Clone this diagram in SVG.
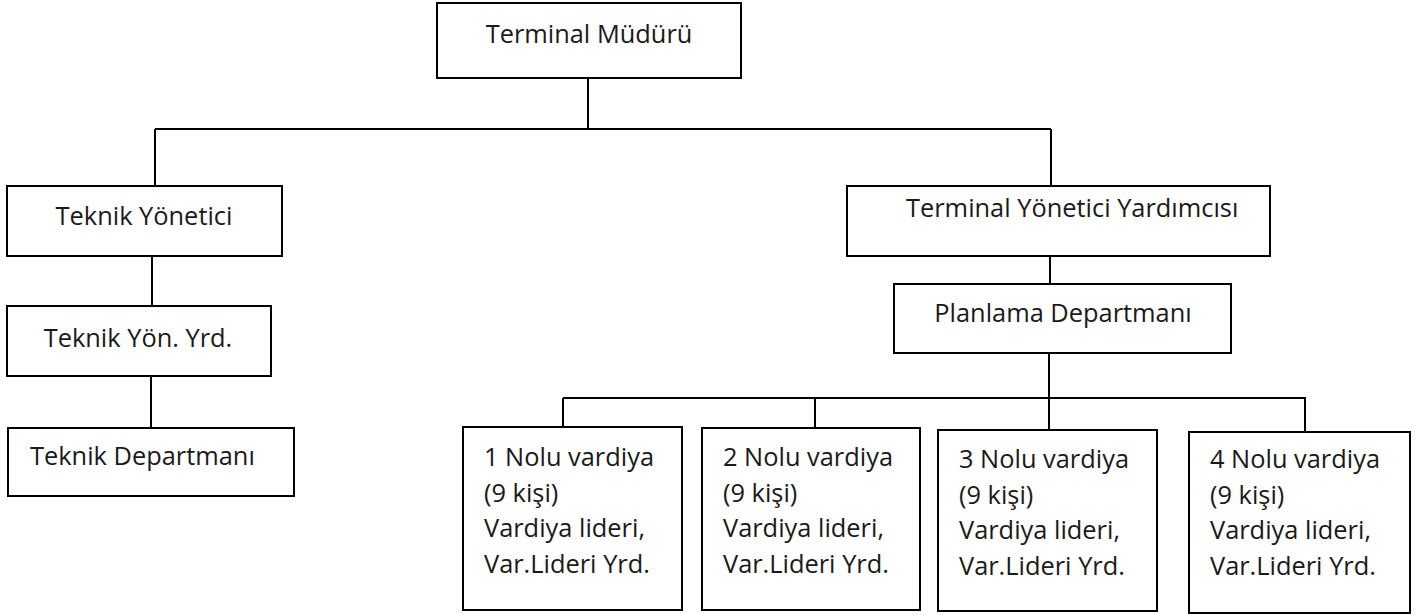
<svg xmlns="http://www.w3.org/2000/svg" width="1424" height="615" viewBox="0 0 1424 615">
<style>
.box{fill:#fff;stroke:#000;stroke-width:2}
.ln{stroke:#000;stroke-width:2;fill:none}
text{font-family:"Open Sans","Noto Sans","Liberation Sans",sans-serif;font-size:25.4px;fill:#1a1a1a}
.c{text-anchor:middle}
</style>
<rect width="1424" height="615" fill="#fff"/>
<g id="connectors">
<path class="ln" d="M588 72V129M155 129H1051M155 129V186M1051 129V186"/>
<path class="ln" d="M152 256V306M151 376V428"/>
<path class="ln" d="M1050 256V284M1049 345V398M563 398H1306M563 398V427M815 398V428M1049 398V430M1305 398V432"/>
</g>
<g id="n-terminal-muduru"><rect class="box" x="437" y="3" width="304" height="75"/><text class="c" x="589" y="43">Terminal Müdürü</text></g>
<g id="n-teknik-yonetici"><rect class="box" x="7" y="186" width="275" height="70"/><text class="c" x="144" y="225">Teknik Yönetici</text></g>
<g id="n-teknik-yon-yrd"><rect class="box" x="7" y="306" width="264" height="70"/><text class="c" x="138" y="347">Teknik Yön. Yrd.</text></g>
<g id="n-teknik-departmani"><rect class="box" x="8" y="428" width="286" height="68"/><text x="30" y="465">Teknik Departmanı</text></g>
<g id="n-terminal-yonetici-yardimcisi"><rect class="box" x="847" y="186" width="423" height="70"/><text x="906" y="217">Terminal Yönetici Yardımcısı</text></g>
<g id="n-planlama"><rect class="box" x="894" y="284" width="337" height="69"/><text class="c" x="1063" y="322">Planlama Departmanı</text></g>
<g id="n-vardiya-1"><rect class="box" x="463" y="427" width="219" height="183"/><text x="484" y="466"><tspan x="484">1 Nolu vardiya</tspan><tspan x="484" dy="35.5">(9 kişi)</tspan><tspan x="484" dy="35.5">Vardiya lideri,</tspan><tspan x="484" dy="35.5">Var.Lideri Yrd.</tspan></text></g>
<g id="n-vardiya-2"><rect class="box" x="702" y="428" width="218" height="182"/><text x="723" y="466"><tspan x="723">2 Nolu vardiya</tspan><tspan x="723" dy="35.5">(9 kişi)</tspan><tspan x="723" dy="35.5">Vardiya lideri,</tspan><tspan x="723" dy="35.5">Var.Lideri Yrd.</tspan></text></g>
<g id="n-vardiya-3"><rect class="box" x="938" y="430" width="219" height="181"/><text x="959" y="468"><tspan x="959">3 Nolu vardiya</tspan><tspan x="959" dy="35.5">(9 kişi)</tspan><tspan x="959" dy="35.5">Vardiya lideri,</tspan><tspan x="959" dy="35.5">Var.Lideri Yrd.</tspan></text></g>
<g id="n-vardiya-4"><rect class="box" x="1189" y="432" width="221" height="181"/><text x="1210" y="468"><tspan x="1210">4 Nolu vardiya</tspan><tspan x="1210" dy="35.5">(9 kişi)</tspan><tspan x="1210" dy="35.5">Vardiya lideri,</tspan><tspan x="1210" dy="35.5">Var.Lideri Yrd.</tspan></text></g>
</svg>
